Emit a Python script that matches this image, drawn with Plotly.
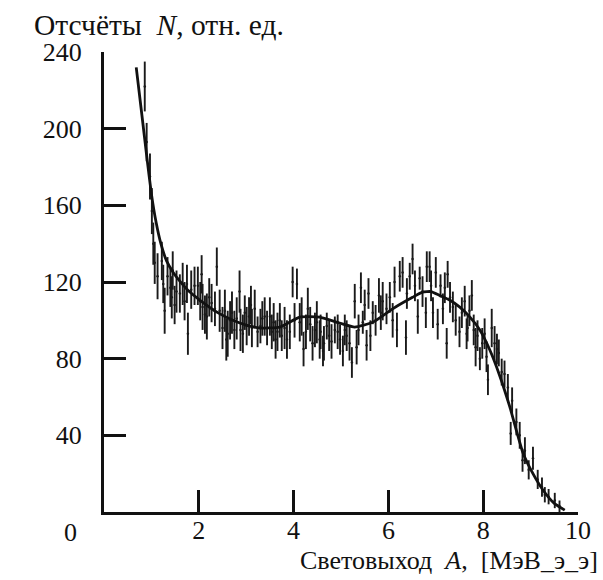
import plotly.graph_objects as go

# ---- measured points (light yield A, counts N, error) ----
x_data = [0.86, 0.90, 0.97, 1.01, 1.04, 1.07, 1.13, 1.22, 1.25, 1.28, 1.34, 1.40, 1.43, 1.45, 1.49,
          1.53, 1.60, 1.66, 1.70, 1.75, 1.77, 1.84, 1.91, 1.98, 2.03, 2.06, 2.08, 2.13, 2.17, 2.22,
          2.27, 2.34, 2.38, 2.44, 2.50, 2.55, 2.58, 2.61, 2.66, 2.70, 2.75, 2.80, 2.86, 2.88, 2.93,
          2.97, 3.01, 3.06, 3.10, 3.12, 3.18, 3.24, 3.30, 3.34, 3.39, 3.44, 3.50, 3.54, 3.58, 3.62,
          3.66, 3.71, 3.75, 3.81, 3.86, 3.92, 3.98, 4.02, 4.07, 4.13, 4.17, 4.21, 4.26, 4.30, 4.35,
          4.40, 4.45, 4.49, 4.55, 4.57, 4.62, 4.64, 4.70, 4.75, 4.80, 4.87, 4.93, 4.98, 5.04, 5.08,
          5.12, 5.18, 5.23, 5.29, 5.33, 5.37, 5.42, 5.46, 5.50, 5.54, 5.58, 5.62, 5.67, 5.73, 5.80,
          5.84, 5.88, 5.96, 6.03, 6.09, 6.13, 6.18, 6.24, 6.30, 6.37, 6.39, 6.45, 6.51, 6.56, 6.62,
          6.66, 6.72, 6.79, 6.81, 6.87, 6.90, 6.94, 7.00, 7.04, 7.10, 7.15, 7.19, 7.23, 7.25, 7.30,
          7.36, 7.42, 7.50, 7.55, 7.61, 7.65, 7.67, 7.71, 7.76, 7.80, 7.84, 7.88, 7.93, 7.98, 8.03,
          8.07, 8.10, 8.18, 8.24, 8.29, 8.33, 8.39, 8.45, 8.52, 8.58, 8.61, 8.70, 8.77, 8.83, 8.88,
          8.96, 9.05, 9.15, 9.24, 9.30, 9.38, 9.51, 9.61]
y_data = [222, 193, 175, 157, 140, 130, 123, 131, 119, 105, 123, 117, 112, 126, 108,
          115, 114, 119, 110, 119, 93, 116, 118, 118, 110, 124, 107, 103, 102, 112,
          109, 106, 128, 105, 96, 105, 90, 93, 100, 104, 95, 101, 115, 95, 93,
          104, 97, 102, 108, 96, 106, 94, 97, 101, 102, 96, 102, 94, 99, 90,
          94, 100, 92, 96, 90, 94, 120, 100, 119, 99, 102, 85, 94, 106, 98,
          88, 95, 99, 90, 94, 84, 88, 97, 92, 89, 95, 94, 90, 84, 95,
          92, 88, 78, 110, 86, 95, 117, 99, 108, 87, 114, 92, 104, 100, 113,
          104, 110, 106, 112, 100, 120, 95, 123, 125, 91, 114, 123, 132, 118, 102,
          122, 115, 104, 128, 128, 118, 104, 125, 98, 118, 106, 117, 88, 124, 112,
          107, 100, 94, 104, 110, 93, 96, 105, 113, 95, 86, 92, 80, 88, 93,
          81, 69, 96, 88, 85, 83, 73, 72, 65, 41, 58, 47, 40, 27, 32,
          22, 28, 17, 13, 9, 8, 6, 3]
err_data = [13, 10, 12, 12, 11, 11, 12, 10, 10, 12, 10, 10, 11, 10, 10,
            11, 10, 11, 10, 10, 11, 10, 10, 10, 10, 10, 12, 10, 12, 10,
            10, 9, 10, 11, 11, 11, 11, 12, 10, 11, 10, 11, 11, 11, 10,
            9, 10, 10, 10, 10, 10, 8, 9, 9, 10, 9, 10, 9, 10, 10,
            10, 9, 8, 11, 10, 9, 8, 9, 8, 10, 10, 9, 9, 11, 9,
            9, 9, 11, 10, 9, 8, 9, 7, 8, 9, 7, 9, 8, 8, 8,
            8, 9, 8, 9, 9, 8, 8, 6, 8, 8, 8, 8, 6, 8, 9,
            9, 10, 8, 8, 9, 8, 9, 8, 8, 9, 8, 7, 8, 8, 9,
            6, 8, 8, 8, 8, 8, 8, 8, 8, 6, 8, 8, 8, 7, 8,
            8, 8, 8, 8, 8, 8, 7, 8, 8, 8, 10, 8, 6, 8, 8,
            8, 8, 10, 9, 8, 7, 7, 7, 7, 6, 7, 7, 7, 6, 7,
            5, 6, 5, 5, 4, 4, 4, 3]

# ---- fitted curve ----
x_fit = [0.68, 0.8, 0.9, 1.0, 1.1, 1.2, 1.32, 1.46, 1.6, 1.8, 2.02, 2.4, 2.72, 3.0, 3.29, 3.71,
         4.13, 4.55, 4.97, 5.29, 5.67, 6.09, 6.51, 6.72, 6.9, 7.08, 7.3, 7.5, 7.72, 7.93,
         8.14, 8.35, 8.56, 8.84, 9.05, 9.26, 9.5, 9.72]
y_fit = [232, 207, 186, 166, 151, 140, 131, 125, 120.5, 115, 110.6, 104, 100, 97.5, 96, 96.5,
         101.7, 101.7, 98.6, 96.5, 99, 106, 112, 114.7, 115, 113, 110.5, 107, 101.7, 95,
         84.5, 71, 55, 30.8, 20, 11.5, 4.5, 1]

x_ticks = [2, 4, 6, 8, 10]
y_ticks = [40, 80, 120, 160, 200, 240]

FONT = "Liberation Serif"
FS = 26
INK = "#111"

fig = go.Figure()
fig.add_trace(go.Scatter(
    x=x_data, y=y_data, mode="markers",
    marker=dict(size=2.5, color="#1a1a1a"),
    error_y=dict(type="data", array=err_data, visible=True, thickness=1.9, width=0, color="#1a1a1a"),
    showlegend=False, hoverinfo="skip"))
fig.add_trace(go.Scatter(
    x=x_fit, y=y_fit, mode="lines",
    line=dict(color=INK, width=2.8, shape="spline", smoothing=0.5),
    showlegend=False, hoverinfo="skip"))

axis_common = dict(showgrid=False, zeroline=False, showline=True, linecolor=INK, linewidth=3,
                   ticks="inside", ticklen=22, tickwidth=3, tickcolor=INK,
                   tickfont=dict(family=FONT, size=FS, color=INK))

fig.update_layout(
    width=603, height=580,
    margin=dict(l=104, r=25, t=52, b=68),
    paper_bgcolor="white", plot_bgcolor="white",
    xaxis=dict(range=[0, 10], tickvals=x_ticks, ticktext=[str(v) for v in x_ticks],
               ticklabelstandoff=-7, **axis_common),
    yaxis=dict(range=[0, 240], tickvals=y_ticks, ticktext=[str(v) for v in y_ticks],
               ticklabelstandoff=14, **axis_common),
    annotations=[
        dict(text="Отсчёты\u00a0\u00a0<i>N</i>, отн. ед.", xref="paper", yref="paper",
             x=(32 - 104) / 474, y=(512 - 25) / 460, xanchor="left", yanchor="middle",
             showarrow=False, font=dict(family=FONT, size=29.5, color=INK)),
        dict(text="Световыход\u00a0\u00a0<i>A</i>,\u00a0\u00a0[МэВ_э_э]", xref="paper", yref="paper",
             x=(600 - 104) / 474, y=(512 - 560) / 460, xanchor="right", yanchor="middle",
             showarrow=False, font=dict(family=FONT, size=FS, color=INK)),
        dict(text="0", xref="paper", yref="paper",
             x=(70.5 - 104) / 474, y=(512 - 532) / 460, xanchor="center", yanchor="middle",
             showarrow=False, font=dict(family=FONT, size=FS, color=INK)),
    ],
)

fig.write_html("out.html")
